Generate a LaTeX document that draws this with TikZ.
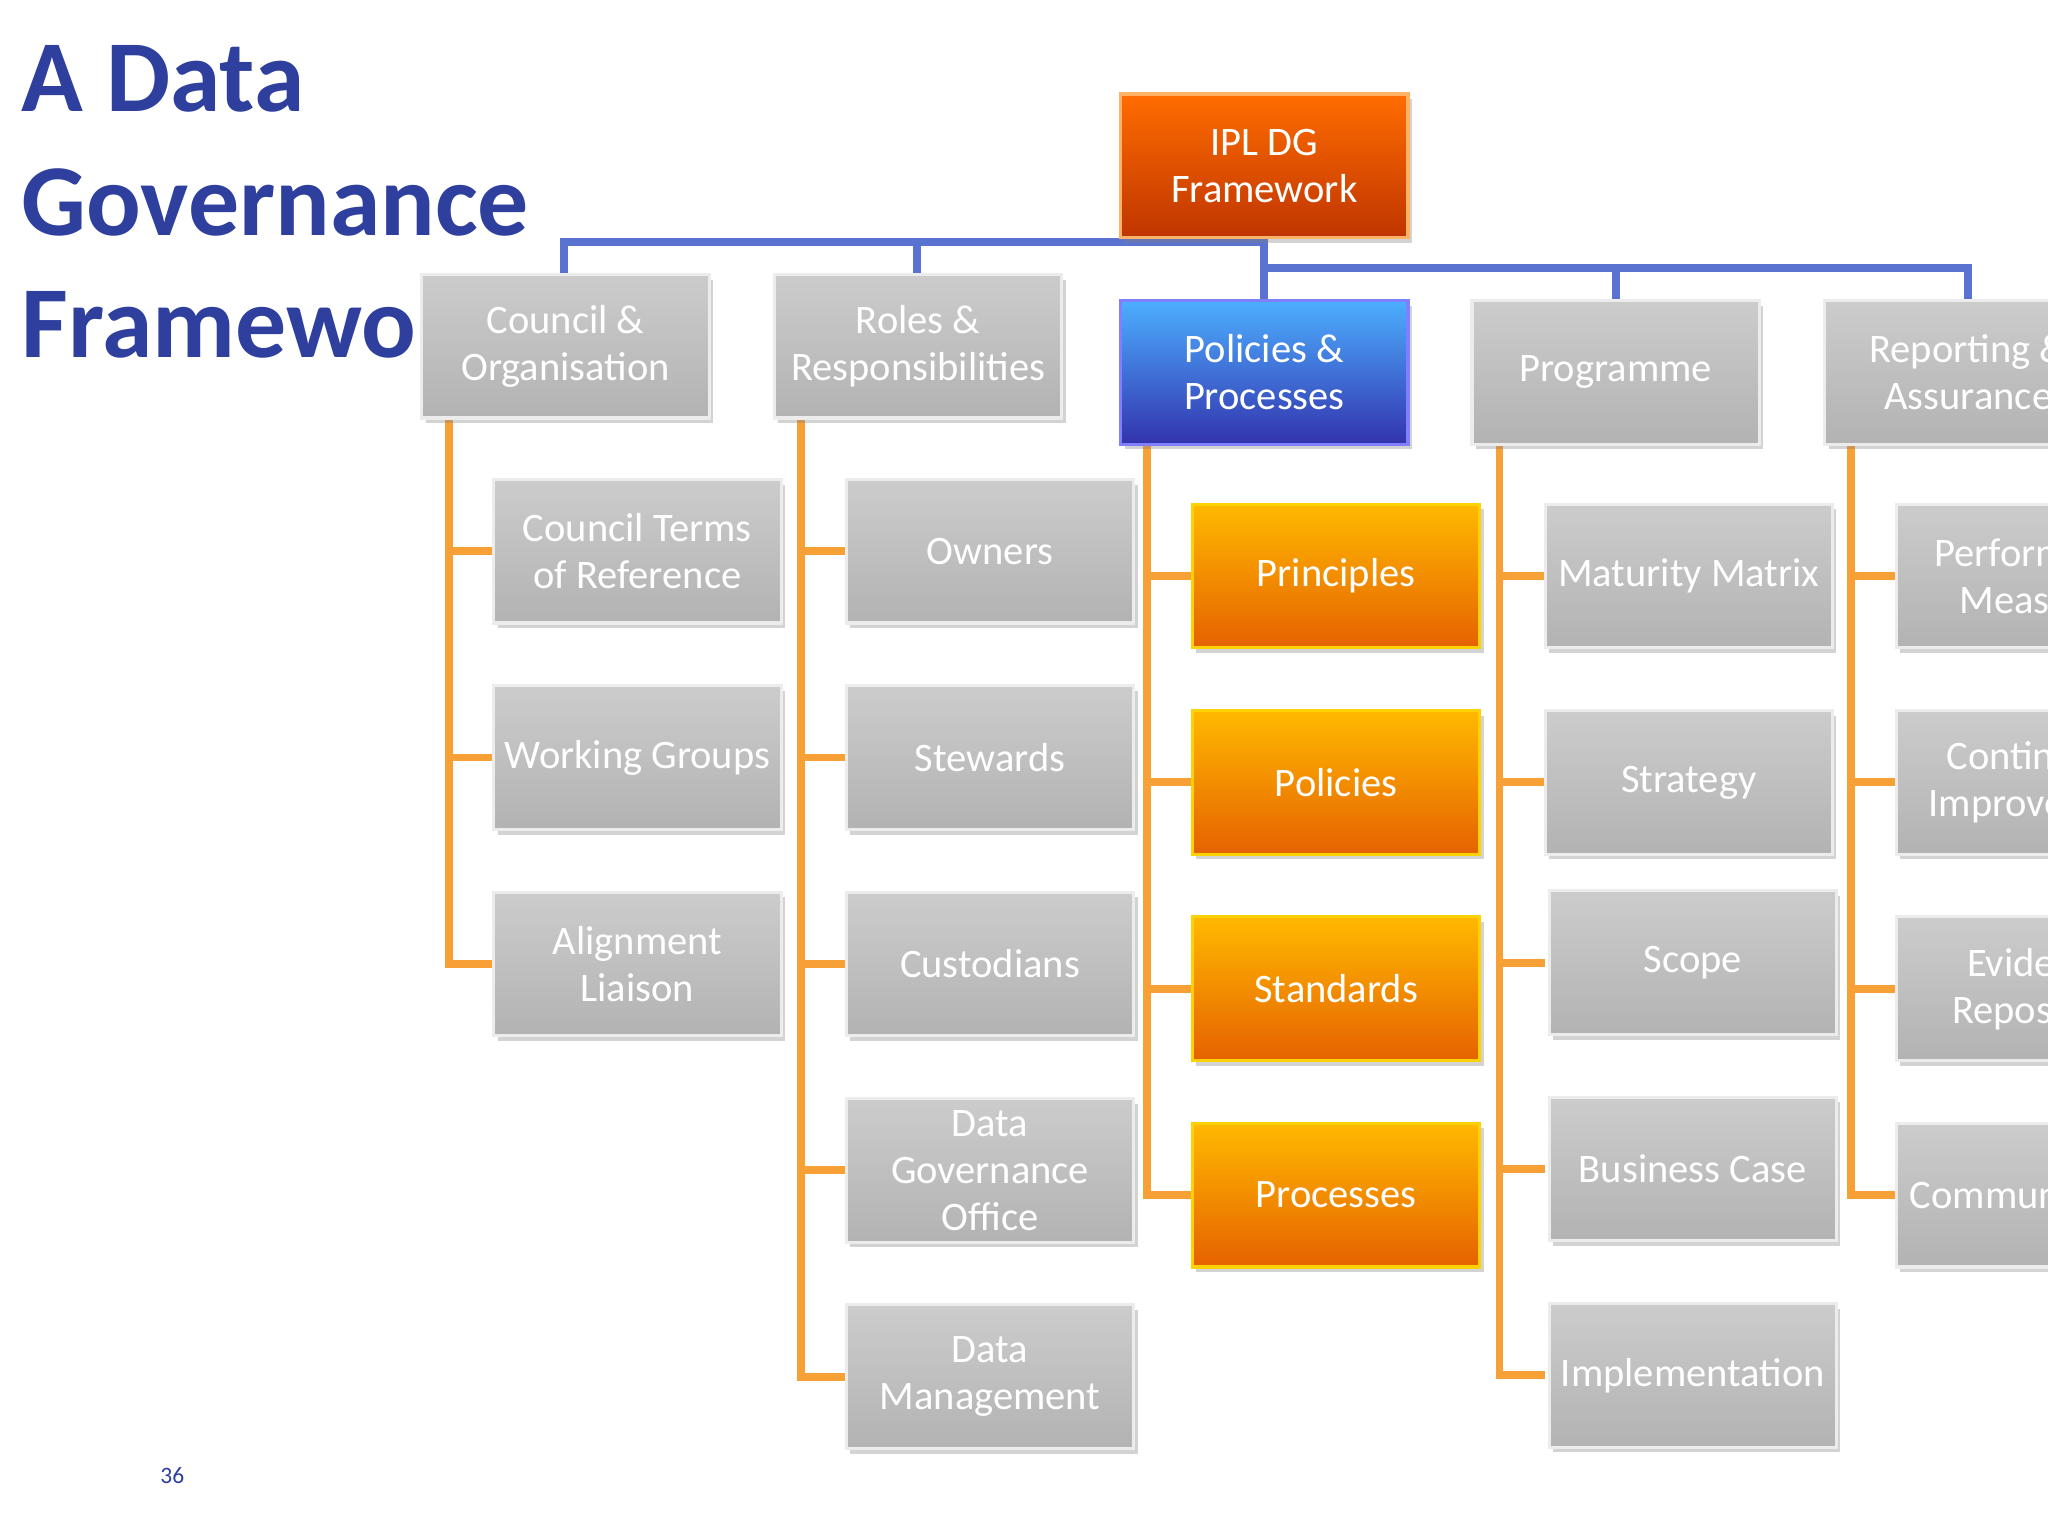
\documentclass[tikz,border=0pt]{standalone}
\usepackage{fontspec}
\setmainfont{Carlito}
\usetikzlibrary{shadows}
\definecolor{tblue}{HTML}{2E3F9E}
\definecolor{bus}{HTML}{5B73D0}
\definecolor{conn}{HTML}{F7A035}
\tikzset{
  x=0.5pt,y=-0.5pt,
  box/.style={draw=white!85!gray,line width=1.2pt,minimum width=110pt,minimum height=55pt,inner sep=1pt,align=center,text=white,
    font=\fontsize{15.5}{18}\selectfont,drop shadow={shadow xshift=1.5pt,shadow yshift=-2pt,opacity=.35}},
  grayb/.style={box,top color=black!20,bottom color=black!30},
  ora/.style={box,top color=yellow!45!orange,bottom color=orange!85!red!90!black,draw=yellow!70!orange},
  top/.style={box,top color=orange!85!red,bottom color=orange!55!red!75!black,draw=orange!60},
  blu/.style={box,top color=blue!45!cyan!70!white,bottom color=blue!60!black!80,draw=blue!50},
  bl/.style={draw=bus,line width=3pt},
  ol/.style={draw=conn,line width=3pt},
  ttl/.style={anchor=base west,text=tblue,font=\fontsize{39}{42}\bfseries\selectfont,inner sep=0},
}
\begin{document}
\begin{tikzpicture}
\useasboundingbox (0,0) rectangle (1568,1176);
\clip (0,0) rectangle (1568,1176);
\node[ttl] (t1) at (16,85) {A Data};
\node[ttl] (t2) at (16,180) {Governance};
\node[ttl] (t3) at (16,274) {Framework};
\node[font=\fontsize{9}{10}\selectfont,text=tblue] (pg) at (132,1130) {36};
\coordinate (b1) at (432,185);
\coordinate (b2) at (702,185);
\coordinate (b3) at (968,205);
\coordinate (b4) at (1507,205);
\coordinate (b5) at (1237,205);
\draw[bl] (432,210) -- (b1) -- (968,185) -- (b3) -- (b4) -- (1507,230);
\draw[bl] (b2) -- (702,210);
\draw[bl] (b5) -- (1237,230);
\draw[bl] (b3) -- (968,230);
\draw[ol] (344,320) -- (344,738) -- (378,738);
\draw[ol] (344,422) -- (378,422); \draw[ol] (344,580) -- (378,580);
\draw[ol] (613,320) -- (613,1054) -- (648,1054);
\foreach \y in {422,580,738,896} \draw[ol] (613,\y) -- (648,\y);
\draw[ol] (878,340) -- (878,915) -- (913,915);
\foreach \y in {441,599,757} \draw[ol] (878,\y) -- (913,\y);
\draw[ol] (1148,340) -- (1148,1053) -- (1183,1053);
\foreach \y in {441,599,737,895} \draw[ol] (1148,\y) -- (1183,\y);
\draw[ol] (1417,340) -- (1417,915) -- (1452,915);
\foreach \y in {441,599,757} \draw[ol] (1417,\y) -- (1452,\y);
\node[top] (root) at (968,127) {IPL DG\\Framework};
\node[grayb] (c) at (433,265) {Council \&\\Organisation};
\node[grayb] (r) at (703,265) {Roles \&\\Responsibilities};
\node[blu] (p) at (968,285) {Policies \&\\Processes};
\node[grayb] (pr) at (1237,285) {Programme};
\node[grayb] (ra) at (1507,285) {Reporting \&\\Assurance};
\node[grayb] (c1) at (488,422) {Council Terms\\of Reference};
\node[grayb] (c2) at (488,580) {Working Groups};
\node[grayb] (c3) at (488,738) {Alignment\\Liaison};
\node[grayb] (r1) at (758,422) {Owners};
\node[grayb] (r2) at (758,580) {Stewards};
\node[grayb] (r3) at (758,738) {Custodians};
\node[grayb] (r4) at (758,896) {Data\\Governance\\Office};
\node[grayb] (r5) at (758,1054) {Data\\Management};
\node[ora] (p1) at (1023,441) {Principles};
\node[ora] (p2) at (1023,599) {Policies};
\node[ora] (p3) at (1023,757) {Standards};
\node[ora] (p4) at (1023,915) {Processes};
\node[grayb] (g1) at (1293,441) {Maturity Matrix};
\node[grayb] (g2) at (1293,599) {Strategy};
\node[grayb] (g3) at (1296,737) {Scope};
\node[grayb] (g4) at (1296,895) {Business Case};
\node[grayb] (g5) at (1296,1053) {Implementation};
\node[grayb] (a1) at (1562,441) {Performance\\Measures};
\node[grayb] (a2) at (1562,599) {Continuous\\Improvement};
\node[grayb] (a3) at (1562,757) {Evidence\\Repository};
\node[grayb] (a4) at (1562,915) {Communication};
\end{tikzpicture}
\end{document}
